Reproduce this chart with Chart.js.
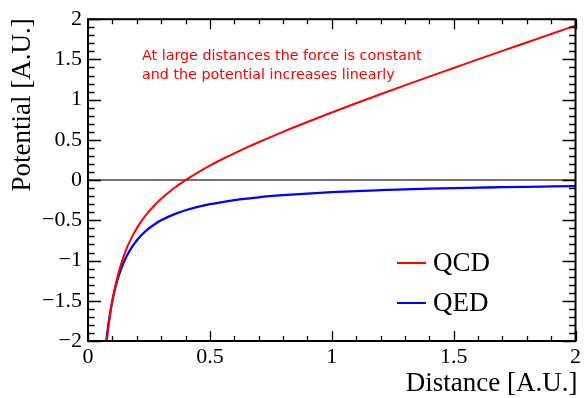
<!DOCTYPE html>
<html>
<head>
<meta charset="utf-8">
<script src="https://cdn.jsdelivr.net/npm/chart.js@4/dist/chart.umd.min.js"></script>
<style>
  html, body { margin: 0; padding: 0; background: #fff; }
  #wrap { width: 584px; height: 398px; }
</style>
</head>
<body>
<div id="wrap"><canvas id="c" width="584" height="398"></canvas></div>
<script>
// ---- data ----
const distance     = [0.07, 0.075, 0.08, 0.085, 0.09, 0.095, 0.1, 0.11, 0.12, 0.13, 0.14, 0.15, 0.16, 0.18, 0.2, 0.22, 0.25, 0.28, 0.3, 0.35, 0.4, 0.45, 0.5, 0.55, 0.6, 0.65, 0.7, 0.8, 0.9, 1.0, 1.1, 1.2, 1.3, 1.4, 1.5, 1.6, 1.7, 1.8, 1.9, 2.0];
const qcdPotential = [-2.216, -2.058, -1.920, -1.797, -1.688, -1.589, -1.500, -1.345, -1.213, -1.101, -1.003, -0.917, -0.840, -0.709, -0.600, -0.507, -0.390, -0.291, -0.233, -0.107, 0.000, 0.094, 0.180, 0.259, 0.333, 0.404, 0.471, 0.600, 0.722, 0.840, 0.955, 1.067, 1.177, 1.286, 1.393, 1.500, 1.606, 1.711, 1.816, 1.920];
const qedPotential = [-2.143, -2.000, -1.875, -1.765, -1.667, -1.579, -1.500, -1.364, -1.250, -1.154, -1.071, -1.000, -0.938, -0.833, -0.750, -0.682, -0.600, -0.536, -0.500, -0.429, -0.375, -0.333, -0.300, -0.273, -0.250, -0.231, -0.214, -0.188, -0.167, -0.150, -0.136, -0.125, -0.115, -0.107, -0.100, -0.094, -0.088, -0.083, -0.079, -0.075];
const seriesNames  = ['QCD', 'QED'];
const xTicks       = [0, 0.5, 1, 1.5, 2];
const xTickLabels  = ['0', '0.5', '1', '1.5', '2'];
const yTicks       = [-2, -1.5, -1, -0.5, 0, 0.5, 1, 1.5, 2];
const yTickLabels  = ['\u22122', '\u22121.5', '\u22121', '\u22120.5', '0', '0.5', '1', '1.5', '2'];
const xTitle = 'Distance [A.U.]';
const yTitle = 'Potential [A.U.]';
const noteLines = ['At large distances the force is constant', 'and the potential increases linearly'];

const colors = ['#ff0000', '#0000ff'];
const serif = "'Liberation Serif', 'Times New Roman', serif";

function labelFor(ticks, labels, v) {
  for (let i = 0; i < ticks.length; i++) if (Math.abs(ticks[i] - v) < 1e-9) return labels[i];
  return '';
}

const rootPlugin = {
  id: 'rootStyle',
  beforeDatasetsDraw(chart) {
    const ctx = chart.ctx, a = chart.chartArea, ys = chart.scales.y;
    const y0 = ys.getPixelForValue(0);
    ctx.save();
    ctx.strokeStyle = '#444';
    ctx.lineWidth = 1.5;
    ctx.beginPath();
    ctx.moveTo(a.left, y0); ctx.lineTo(a.right, y0);
    ctx.stroke();
    ctx.restore();
  },
  afterDatasetsDraw(chart) {
    const ctx = chart.ctx, a = chart.chartArea;
    const xs = chart.scales.x, ys = chart.scales.y;
    ctx.save();
    // ticks on all four sides
    ctx.strokeStyle = '#000';
    ctx.lineWidth = 1.3;
    ctx.beginPath();
    for (let k = 0; k <= 20; k++) {
      const v = xs.min + k * 0.1;
      const px = Math.round(xs.getPixelForValue(v)) + 0.5;
      const len = (k % 5 === 0) ? 10 : 5;
      ctx.moveTo(px, a.bottom); ctx.lineTo(px, a.bottom - len);
      ctx.moveTo(px, a.top); ctx.lineTo(px, a.top + len);
    }
    for (let k = 0; k <= 40; k++) {
      const v = ys.min + k * 0.1;
      const py = Math.round(ys.getPixelForValue(v)) + 0.5;
      const len = (k % 5 === 0) ? 13 : 6.5;
      ctx.moveTo(a.left, py); ctx.lineTo(a.left + len, py);
      ctx.moveTo(a.right, py); ctx.lineTo(a.right - len, py);
    }
    ctx.stroke();
    // frame
    ctx.lineWidth = 2;
    ctx.strokeRect(a.left, a.top, a.right - a.left, a.bottom - a.top);

    // axis titles
    ctx.fillStyle = '#000';
    ctx.font = '27px ' + serif;
    ctx.textAlign = 'right';
    ctx.textBaseline = 'alphabetic';
    ctx.fillText(xTitle, a.right + 2, 391);
    ctx.save();
    ctx.translate(30, a.top - 1);
    ctx.rotate(-Math.PI / 2);
    ctx.textAlign = 'right';
    ctx.fillText(yTitle, 0, 0);
    ctx.restore();

    // annotation
    ctx.fillStyle = '#ff0000';
    ctx.font = "14.3px 'DejaVu Sans', sans-serif";
    ctx.textAlign = 'left';
    ctx.fillText(noteLines[0], a.left + 54, 60);
    ctx.fillText(noteLines[1], a.left + 54, 79);

    // legend
    const legY = [263, 303];
    ctx.font = '27px ' + serif;
    ctx.textBaseline = 'middle';
    seriesNames.forEach((name, i) => {
      ctx.strokeStyle = colors[i];
      ctx.lineWidth = 2;
      ctx.beginPath();
      ctx.moveTo(397, legY[i]); ctx.lineTo(426, legY[i]);
      ctx.stroke();
      ctx.fillStyle = '#000';
      ctx.fillText(name, 433, legY[i] + 1);
    });
    ctx.restore();
  }
};

new Chart(document.getElementById('c'), {
  type: 'line',
  data: {
    datasets: [
      { label: seriesNames[0], data: distance.map((x, i) => ({ x, y: qcdPotential[i] })),
        borderColor: colors[0], borderWidth: 2, pointRadius: 0, cubicInterpolationMode: 'monotone', fill: false },
      { label: seriesNames[1], data: distance.map((x, i) => ({ x, y: qedPotential[i] })),
        borderColor: colors[1], borderWidth: 2.3, pointRadius: 0, cubicInterpolationMode: 'monotone', fill: false }
    ]
  },
  options: {
    responsive: false,
    animation: false,
    events: [],
    layout: { padding: { top: 16, right: 8, left: 0, bottom: 0 } },
    plugins: { legend: { display: false }, tooltip: { enabled: false }, title: { display: false } },
    scales: {
      x: {
        type: 'linear', min: 0, max: 2,
        grid: { display: false, drawTicks: false },
        border: { display: false },
        afterBuildTicks: s => { s.ticks = xTicks.map(v => ({ value: v })); },
        afterFit: s => { s.height = 57; },
        ticks: { autoSkip: false, maxRotation: 0, padding: 3, color: '#000',
                 font: { family: serif, size: 22 },
                 callback: v => labelFor(xTicks, xTickLabels, v) }
      },
      y: {
        type: 'linear', min: -2, max: 2,
        grid: { display: false, drawTicks: false },
        border: { display: false },
        afterBuildTicks: s => { s.ticks = yTicks.map(v => ({ value: v })); },
        afterFit: s => { s.width = 88; },
        ticks: { autoSkip: false, padding: 6, color: '#000',
                 font: { family: serif, size: 22 },
                 callback: v => labelFor(yTicks, yTickLabels, v) }
      }
    }
  },
  plugins: [rootPlugin]
});
</script>
</body>
</html>
